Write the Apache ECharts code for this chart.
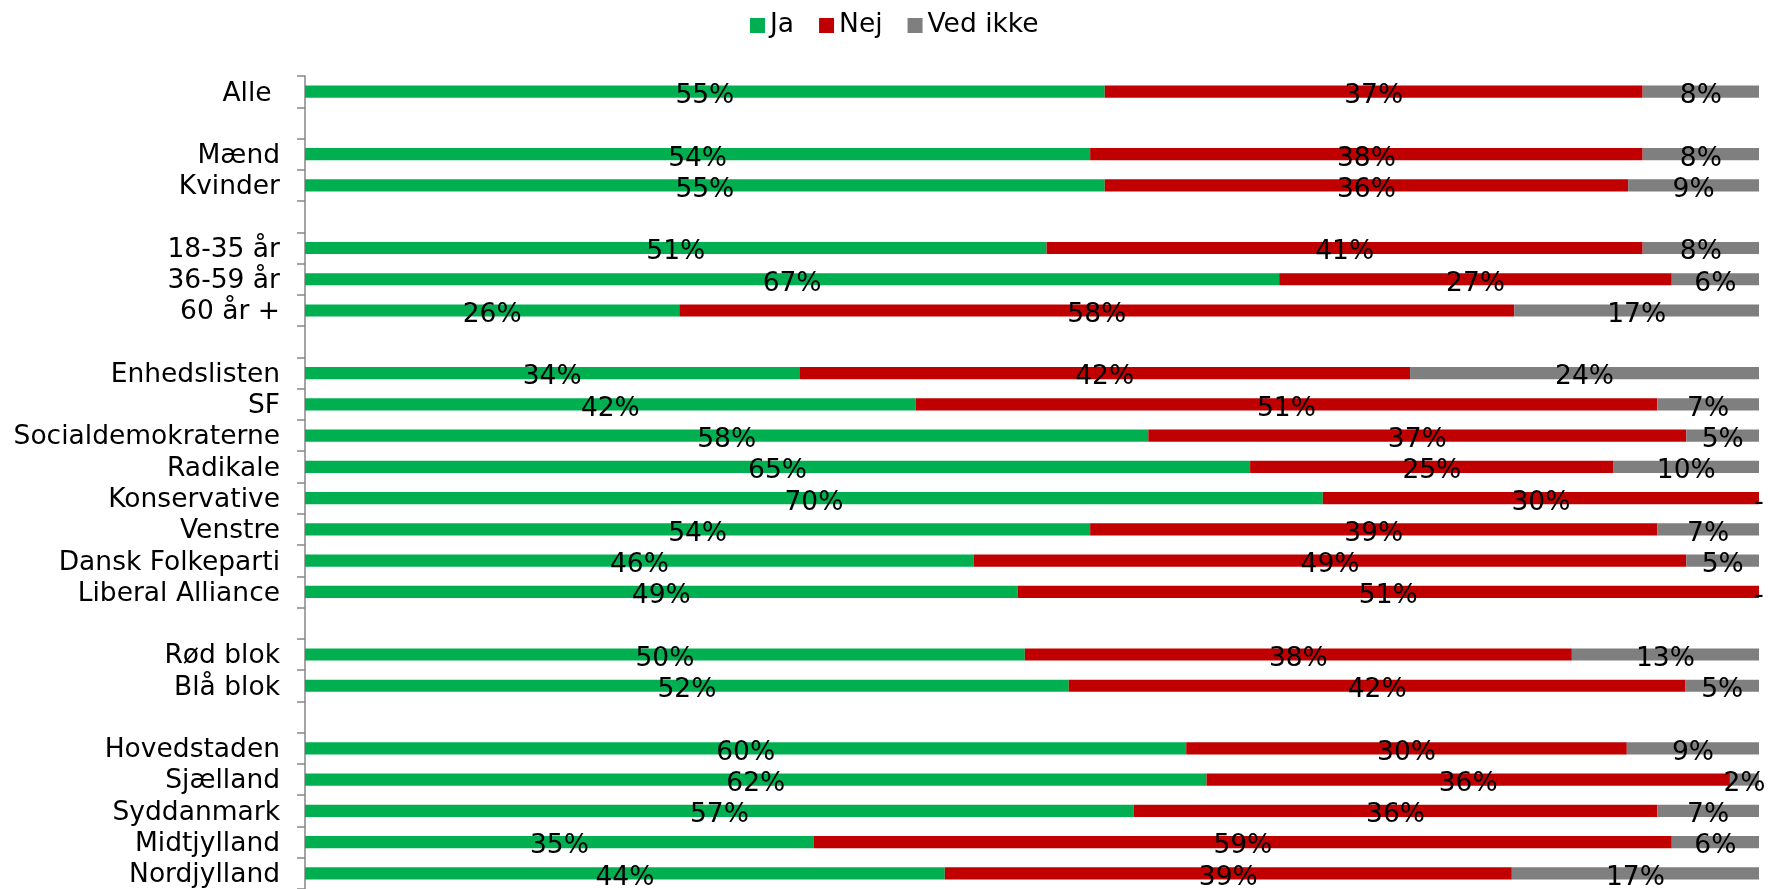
<!DOCTYPE html>
<html>
<head>
<meta charset="utf-8">
<script src="https://cdn.jsdelivr.net/npm/echarts@6/dist/echarts.min.js"></script>
<style>
html,body{margin:0;padding:0;background:#fff;}
#c{width:1769px;height:889px;}
</style>
</head>
<body>
<div id="c"></div>
<script>
const categories = ["Alle ", "", "Mænd", "Kvinder", "", "18-35 år", "36-59 år", "60 år +", "",
  "Enhedslisten", "SF", "Socialdemokraterne", "Radikale", "Konservative", "Venstre", "Dansk Folkeparti", "Liberal Alliance", "",
  "Rød blok", "Blå blok", "", "Hovedstaden", "Sjælland", "Syddanmark", "Midtjylland", "Nordjylland"];
const seriesNames = ["Ja", "Nej", "Ved ikke"];
const ja      = [55, null, 54, 55, null, 51, 67, 26, null, 34, 42, 58, 65, 70, 54, 46, 49, null, 50, 52, null, 60, 62, 57, 35, 44];
const nej     = [37, null, 38, 36, null, 41, 27, 58, null, 42, 51, 37, 25, 30, 39, 49, 51, null, 38, 42, null, 30, 36, 36, 59, 39];
const vedIkke = [8, null, 8, 9, null, 8, 6, 17, null, 24, 7, 5, 10, 0, 7, 5, 0, null, 13, 5, null, 9, 2, 7, 6, 17];
const colors = ["#00B050", "#C00000", "#7F7F7F"];

const FONT = "DejaVu Sans";
const FS = 26.5;
const raw = [ja, nej, vedIkke];
const totals = categories.map((c, i) => raw.reduce((s, a) => s + (a[i] || 0), 0));

const series = raw.map((arr, k) => ({
  name: seriesNames[k],
  type: "bar",
  stack: "total",
  barWidth: "39%",
  itemStyle: { color: colors[k] },
  label: {
    show: true,
    position: "inside",
    offset: [0, 4.5],
    color: "#000",
    fontFamily: FONT,
    fontSize: FS,
    textBorderWidth: 0,
    formatter: p => (p.data.orig === 0 ? "-" : p.data.orig + "%")
  },
  emphasis: { disabled: true },
  data: arr.map((v, i) => v === null ? { value: "-" } : { value: v / totals[i] * 100, orig: v })
}));

const chart = echarts.init(document.getElementById("c"));
chart.setOption({
  animation: false,
  backgroundColor: "#fff",
  legend: {
    data: seriesNames,
    left: 745,
    top: 7,
    icon: "rect",
    itemWidth: 15,
    itemHeight: 15,
    itemGap: 25,
    textStyle: { fontFamily: FONT, fontSize: FS, color: "#000" }
  },
  grid: { left: 305, right: 10, top: 76, bottom: 0 },
  xAxis: { type: "value", min: 0, max: 100, show: false },
  yAxis: {
    type: "category",
    inverse: true,
    data: categories,
    axisLine: { show: true, lineStyle: { color: "#868686", width: 1.5 } },
    axisTick: { show: true, length: 8, lineStyle: { color: "#868686", width: 1.5 } },
    axisLabel: {
      margin: 25, fontFamily: FONT, fontSize: FS, color: "#000", interval: 0,
      formatter: v => (v ? "{a|" + v + "}" : ""),
      rich: { a: { fontFamily: FONT, fontSize: FS, color: "#000", padding: [4, 0, 0, 0] } }
    }
  },
  series: series
});
</script>
</body>
</html>
